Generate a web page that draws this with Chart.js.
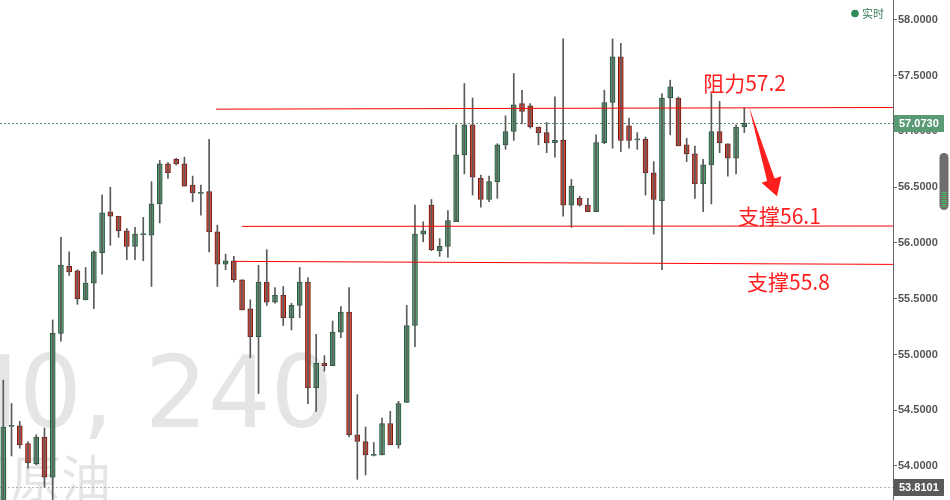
<!DOCTYPE html>
<html><head><meta charset="utf-8">
<script src="https://cdn.jsdelivr.net/npm/chart.js@4.4.1/dist/chart.umd.min.js"></script>
<style>html,body{margin:0;padding:0;background:#fff;overflow:hidden}#wrap{width:950px;height:500px}</style>
</head><body><div id="wrap"><canvas id="c" width="950" height="500"></canvas></div>
<script>
const opens = [53.62,54.36,54.36,54.20,54.02,54.26,53.90,55.19,55.79,55.75,
55.49,55.64,55.91,56.28,56.24,56.11,55.97,56.08,56.07,56.35,
56.71,56.75,56.71,56.52,56.45,56.46,56.10,55.81,55.84,55.67,
55.41,55.16,55.65,55.47,55.53,55.33,55.44,55.65,54.70,54.92,
54.90,55.20,55.38,54.28,54.22,54.10,54.10,54.38,54.19,54.57,
55.26,56.08,56.34,55.93,55.97,56.19,56.79,57.06,56.58,56.39,
56.55,56.88,57.00,57.25,57.23,57.04,56.99,56.90,56.92,56.34,
56.40,56.34,56.28,56.90,57.26,57.67,57.05,56.93,56.93,56.63,
56.38,57.30,57.30,56.88,56.80,56.53,56.70,57.00,56.89,56.76,
57.04];
const highs = [54.77,54.56,54.40,54.22,54.28,54.34,55.31,56.05,55.92,55.76,
55.78,55.93,56.43,56.50,56.24,56.13,56.14,56.23,56.55,56.74,
56.72,56.76,56.77,56.60,56.52,56.93,56.16,55.90,55.88,55.67,
55.49,55.80,55.94,55.60,55.61,55.46,55.78,55.69,55.18,54.99,
55.30,55.43,55.60,54.64,54.35,54.21,54.43,54.49,54.58,55.44,
56.34,56.19,56.39,56.04,56.29,57.06,57.43,57.30,56.61,56.60,
56.89,57.14,57.52,57.37,57.25,57.04,57.08,57.31,57.83,56.57,
56.42,56.40,56.97,57.37,57.83,57.79,57.12,56.99,56.95,56.73,
57.34,57.46,57.31,56.94,56.87,56.75,57.34,57.27,56.89,57.06,
57.21];
const lows = [53.58,54.09,54.16,53.98,54.01,53.81,53.66,55.12,55.71,55.45,
55.49,55.41,55.72,55.98,56.05,55.85,55.85,55.84,55.61,56.18,
56.58,56.70,56.51,56.37,56.25,55.92,55.61,55.76,55.65,55.40,
54.97,54.65,55.44,55.46,55.26,55.22,55.33,54.56,54.49,54.85,
54.90,55.15,54.26,53.88,53.92,54.09,54.10,54.19,54.16,54.57,
55.07,56.01,55.93,55.88,55.87,56.19,56.62,56.43,56.32,56.37,
56.40,56.84,56.92,57.07,57.03,56.88,56.81,56.77,56.24,56.14,
56.33,56.28,56.28,56.89,56.85,56.82,56.85,56.84,56.43,56.08,
55.76,56.97,56.87,56.73,56.40,56.28,56.35,56.81,56.60,56.62,
56.99];
const closes = [54.35,54.36,54.19,54.03,54.26,53.90,55.19,55.80,55.74,55.50,
55.64,55.92,56.27,56.24,56.11,55.97,56.08,56.08,56.35,56.71,
56.63,56.71,56.51,56.45,56.45,56.10,55.81,55.84,55.67,55.40,
55.16,55.65,55.47,55.53,55.33,55.44,55.65,54.70,54.92,54.90,
55.20,55.38,54.28,54.22,54.10,54.10,54.38,54.19,54.56,55.26,
56.08,56.11,55.94,55.97,56.20,56.79,57.06,56.59,56.39,56.55,
56.88,57.00,57.24,57.18,57.04,56.99,56.90,56.92,56.34,56.51,
56.34,56.28,56.90,57.26,57.67,56.92,56.92,56.93,56.63,56.39,
57.30,57.40,56.87,56.80,56.53,56.70,57.00,56.90,56.76,57.04,
57.073];
const priceTicks = [54, 54.5, 55, 55.5, 56, 56.5, 57, 57.5, 58];
const lastPrice = 57.073;
const lowMark = 53.8101;
const yMin = 53.695, yMax = 58.179;
const xMin = -0.4, xMax = 108.06;

// annotation geometry in data units (bar index, price)
const levelLines = [
  {from: [25.84, 57.200], to: [108.06, 57.215]},
  {from: [28.99, 56.149], to: [108.06, 56.152]},
  {from: [28.02, 55.835], to: [108.06, 55.808]}
];
const levelLabels = [
  {text: '阻力57.2', x: 85.0, y: 57.435},
  {text: '支撑56.1', x: 89.24, y: 56.242},
  {text: '支撑55.8', x: 90.33, y: 55.650}
];
const arrowShaft = [[90.57, 57.222], [92.80, 56.547], [93.75, 56.565]];
const arrowHead = [[92.10, 56.540], [94.50, 56.598], [93.97, 56.418]];

const GREEN_FILL = '#5f9e78', GREEN_LINE = '#1f5236';
const RED_FILL = '#d64a3a', RED_LINE = '#6d1811';

const idx = opens.map((_, i) => i);
const isUp = idx.map(i => closes[i] >= opens[i]);
const wickData = idx.map(i => ({x: i, y: [lows[i], highs[i]]}));
const bodyData = idx.map(i => {
  const a = opens[i], b = closes[i];
  if (Math.abs(a - b) < 0.004) return {x: i, y: [a - 0.005, a + 0.005]};
  return {x: i, y: [a, b]};
});

const deco = {
  id: 'deco',
  beforeDatasetsDraw(chart) {
    const {ctx, chartArea: a, scales: {y}} = chart;
    ctx.save();
    ctx.fillStyle = '#e5e5e5';
    ctx.textBaseline = 'alphabetic';
    ctx.textAlign = 'left';
    ctx.font = '100px "DejaVu Sans"';
    const m0 = ctx.measureText('0, 240');
    const ink0 = m0.actualBoundingBoxLeft + m0.actualBoundingBoxRight;
    const size = 100 * 302 / ink0;
    ctx.font = size.toFixed(1) + 'px "DejaVu Sans"';
    const m = ctx.measureText('0, 240');
    const x0 = 25 + m.actualBoundingBoxLeft;
    ctx.fillText('0, 240', x0, 427);
    ctx.textAlign = 'right';
    ctx.fillText('WTI', x0, 427);
    ctx.textAlign = 'left';
    ctx.font = '50px "Noto Sans CJK SC"';
    ctx.fillText('国原油', -39, 497);
    ctx.lineWidth = 1;
    ctx.setLineDash([2, 2]);
    ctx.strokeStyle = '#4f8a67';
    let py = Math.round(y.getPixelForValue(lastPrice)) + 0.5;
    ctx.beginPath(); ctx.moveTo(a.left, py); ctx.lineTo(a.right, py); ctx.stroke();
    ctx.strokeStyle = '#b4b4b4';
    py = Math.round(y.getPixelForValue(lowMark)) + 0.5;
    ctx.beginPath(); ctx.moveTo(a.left, py); ctx.lineTo(a.right, py); ctx.stroke();
    ctx.restore();
  },
  afterDatasetsDraw(chart) {
    const {ctx, scales: {x, y}} = chart;
    const P = p => [x.getPixelForValue(p[0]), y.getPixelForValue(p[1])];
    ctx.save();
    ctx.strokeStyle = '#ff0000';
    ctx.lineWidth = 1;
    levelLines.forEach(l => {
      const f = P(l.from), t = P(l.to);
      ctx.beginPath(); ctx.moveTo(f[0], f[1]); ctx.lineTo(t[0], t[1]); ctx.stroke();
    });
    ctx.fillStyle = '#ff1e1e';
    ctx.font = '21px "Noto Sans CJK SC"';
    ctx.textBaseline = 'middle';
    ctx.textAlign = 'left';
    levelLabels.forEach(l => {
      const p = P([l.x, l.y]);
      ctx.fillText(l.text, p[0], p[1]);
    });
    [arrowShaft, arrowHead].forEach(poly => {
      ctx.beginPath();
      poly.forEach((pt, k) => { const p = P(pt); k ? ctx.lineTo(p[0], p[1]) : ctx.moveTo(p[0], p[1]); });
      ctx.closePath(); ctx.fill();
    });
    ctx.restore();
  },
  afterDraw(chart) {
    const {ctx, chartArea: a, scales: {y}} = chart;
    ctx.save();
    const box = (val, bg) => {
      const py = y.getPixelForValue(val);
      ctx.fillStyle = bg;
      ctx.fillRect(a.right + 1, Math.round(py) - 8, 50, 17);
      ctx.fillStyle = '#ffffff';
      ctx.font = 'bold 11px "Liberation Sans"';
      ctx.textBaseline = 'middle';
      ctx.textAlign = 'left';
      ctx.fillText(val.toFixed(4), a.right + 6, Math.round(py) + 1);
    };
    box(lastPrice, '#5a9a74');
    box(lowMark, '#595959');
    ctx.fillStyle = '#2e8b57';
    ctx.beginPath(); ctx.arc(855, 13.5, 3.8, 0, Math.PI * 2); ctx.fill();
    ctx.fillStyle = '#3f7a5e';
    ctx.font = '11px "Noto Sans CJK SC"';
    ctx.textBaseline = 'middle';
    ctx.fillText('实时', 862, 13.5);
    ctx.fillStyle = '#6e6e6e';
    ctx.beginPath();
    if (ctx.roundRect) ctx.roundRect(939.5, 153, 9, 57, 4.5); else ctx.rect(939.5, 153, 9, 57);
    ctx.fill();
    ctx.strokeStyle = '#4cbb5a';
    ctx.lineWidth = 1;
    for (let yy = 192.5; yy < 207; yy += 2) {
      ctx.beginPath(); ctx.moveTo(941.5, yy); ctx.lineTo(946.5, yy); ctx.stroke();
    }
    ctx.restore();
  }
};

new Chart(document.getElementById('c'), {
  type: 'bar',
  data: {
    datasets: [
      {data: wickData, backgroundColor: '#5a5a5a', borderWidth: 0, barThickness: 1, grouped: false},
      {data: bodyData, backgroundColor: idx.map(i => isUp[i] ? GREEN_FILL : RED_FILL),
       borderColor: idx.map(i => isUp[i] ? GREEN_LINE : RED_LINE), borderWidth: 1,
       borderSkipped: false, barThickness: 5, grouped: false}
    ]
  },
  options: {
    responsive: false, animation: false,
    layout: {padding: 0},
    plugins: {legend: {display: false}, tooltip: {enabled: false}},
    scales: {
      x: {type: 'linear', display: false, min: xMin, max: xMax, offset: false},
      y: {
        position: 'right', min: yMin, max: yMax,
        afterBuildTicks: s => { s.ticks = priceTicks.map(v => ({value: v})); },
        afterFit: s => { s.width = 57; s.paddingTop = 0; s.paddingBottom = 0; },
        grid: {drawOnChartArea: false, tickLength: 4, color: '#666'},
        border: {display: true, color: '#666'},
        ticks: {callback: v => Number(v).toFixed(4), color: '#555', padding: 1,
                font: {size: 11, weight: 'bold', family: 'Liberation Sans'}}
      }
    }
  },
  plugins: [deco]
});
</script></body></html>
